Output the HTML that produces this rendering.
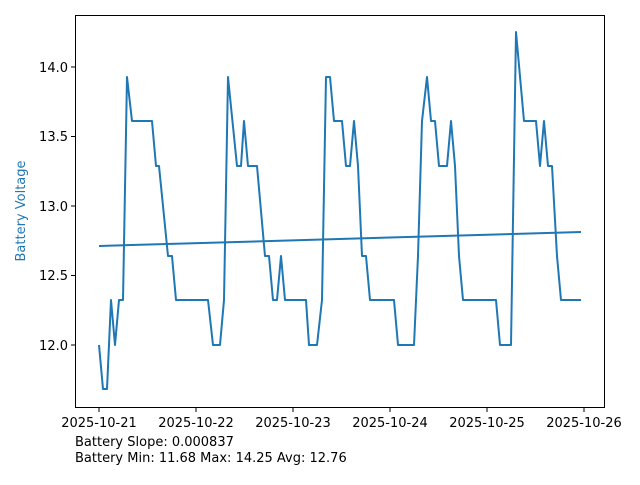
<!DOCTYPE html>
<html><head><meta charset="utf-8"><style>body{margin:0;background:#fff}</style></head><body>
<svg width="640" height="480" xmlns="http://www.w3.org/2000/svg" font-family="DejaVu Sans, Liberation Sans, sans-serif" font-size="13">
<rect width="640" height="480" fill="#fff"/>
<rect x="75.5" y="15.5" width="529" height="392" fill="none" stroke="#000" stroke-width="1"/>
<g stroke="#000">
<line x1="75" y1="345" x2="71" y2="345"/><line x1="75" y1="275.5" x2="71" y2="275.5"/><line x1="75" y1="206" x2="71" y2="206"/><line x1="75" y1="136.5" x2="71" y2="136.5"/><line x1="75" y1="67" x2="71" y2="67"/>
<line x1="99" y1="408" x2="99" y2="412"/><line x1="196" y1="408" x2="196" y2="412"/><line x1="293" y1="408" x2="293" y2="412"/><line x1="390" y1="408" x2="390" y2="412"/><line x1="487" y1="408" x2="487" y2="412"/><line x1="584" y1="408" x2="584" y2="412"/>
</g>
<g text-anchor="end">
<text x="68" y="350">12.0</text><text x="68" y="280">12.5</text><text x="68" y="211">13.0</text><text x="68" y="141">13.5</text><text x="68" y="72">14.0</text>
</g>
<g text-anchor="middle">
<text x="99" y="427">2025-10-21</text><text x="196" y="427">2025-10-22</text><text x="293" y="427">2025-10-23</text><text x="390" y="427">2025-10-24</text><text x="487" y="427">2025-10-25</text><text x="584" y="427">2025-10-26</text>
</g>
<text transform="translate(25,211) rotate(-90)" text-anchor="middle" fill="#1f77b4">Battery Voltage</text>
<text x="75" y="446">Battery Slope: 0.000837</text>
<text x="75" y="462">Battery Min: 11.68 Max: 14.25 Avg: 12.76</text>
<polyline fill="none" stroke="#1f77b4" stroke-width="2" stroke-linejoin="round" points="99,345 103,389 107,389 111,300 115,345 119,300 123,300 127,77 132,121 152,121 156,166 159,166 168,256 172,256 176,300 208,300 213,345 220,345 224,300 228,77 237,166 241,166 244,121 248,166 257,166 265,256 269,256 273,300 277,300 281,256 285,300 306,300 309,345 317,345 322,300 326,77 330,77 334,121 342,121 346,166 350,166 354,121 358,166 362,256 366,256 370,300 394,300 398,345 414,345 418,256 422,121 427,77 431,121 435,121 439,166 447,166 451,121 455,166 459,256 463,300 496,300 500,345 511,345 516,32 524,121 536,121 540,166 544,121 548,166 552,166 557,256 561,300 581,300"/>
<line x1="99" y1="246" x2="581" y2="232" stroke="#1f77b4" stroke-width="2"/>
</svg>
</body></html>
